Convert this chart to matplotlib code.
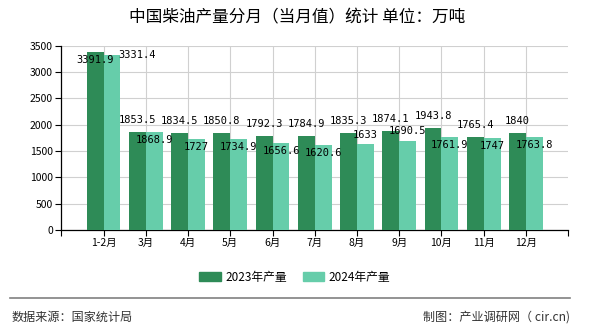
import matplotlib
matplotlib.use('Agg')
import matplotlib.pyplot as plt
import numpy as np
from matplotlib.lines import Line2D

plt.rcParams['font.family'] = ['Noto Sans CJK SC', 'DejaVu Sans']

# Data
months = ['1-2月', '3月', '4月', '5月', '6月', '7月', '8月', '9月', '10月', '11月', '12月']
prod_2023 = [3391.9, 1853.5, 1834.5, 1850.8, 1792.3, 1784.9, 1835.3, 1874.1, 1943.8, 1765.4, 1840]
prod_2024 = [3331.4, 1868.9, 1727, 1734.9, 1656.6, 1620.6, 1633, 1690.5, 1761.9, 1747, 1763.8]
label_2023 = ['3391.9', '1853.5', '1834.5', '1850.8', '1792.3', '1784.9', '1835.3', '1874.1', '1943.8', '1765.4', '1840']
label_2024 = ['3331.4', '1868.9', '1727', '1734.9', '1656.6', '1620.6', '1633', '1690.5', '1761.9', '1747', '1763.8']

c23 = '#2e8b57'
c24 = '#66cdaa'

fig = plt.figure(figsize=(5.9, 3.3), dpi=100)
ax = fig.add_axes([0.104, 0.303, 0.859, 0.558])

x = np.arange(1, len(months) + 1)
w = 0.4
ax.bar(x - w / 2, prod_2023, width=w, color=c23, zorder=3)
ax.bar(x + w / 2, prod_2024, width=w, color=c24, zorder=3)

# data labels: pixel offsets of the label centre from the bar top (dx, dy up)
off23 = [(0, -8)] + [(0, 12)] * 10
off24 = [(25, 0), (0, -8), (0, -8), (0, -8), (0, -8), (0, -8), (0, 9), (0, 10),
         (0, -8), (0, -8), (0, -8)]
for i in range(len(months)):
    ax.annotate(label_2023[i], (x[i] - w / 2, prod_2023[i]),
                xytext=(off23[i][0] * 0.72, off23[i][1] * 0.72),
                textcoords='offset points', ha='center', va='center',
                fontsize=7.5, family='DejaVu Sans Mono', zorder=5)
    ax.annotate(label_2024[i], (x[i] + w / 2, prod_2024[i]),
                xytext=(off24[i][0] * 0.72, off24[i][1] * 0.72),
                textcoords='offset points', ha='center', va='center',
                fontsize=7.5, family='DejaVu Sans Mono', zorder=5)

ax.set_xlim(0, len(months) + 1)
ax.set_ylim(0, 3500)
ax.set_yticks(np.arange(0, 3501, 500))
ax.set_xticks(x)
ax.set_xticklabels(months, fontsize=7.5)
ax.set_xticks(np.arange(0, len(months) + 2), minor=True)
ax.tick_params(axis='y', labelsize=7.5, length=4, width=0.8, pad=2)
ax.tick_params(axis='x', which='major', length=4, width=0.8, pad=2)
ax.tick_params(axis='x', which='minor', length=4, width=0.8)
ax.grid(True, color='#d0d0d0', linewidth=0.8, zorder=0)
ax.set_axisbelow(True)
for s in ['top', 'right']:
    ax.spines[s].set_visible(False)
for s in ['left', 'bottom']:
    ax.spines[s].set_linewidth(0.9)

fig.text(0.503, 0.945, '中国柴油产量分月（当月值）统计 单位：万吨',
         ha='center', va='center', fontsize=12)

handles = [plt.Rectangle((0, 0), 1, 1, color=c23), plt.Rectangle((0, 0), 1, 1, color=c24)]
fig.legend(handles, ['2023年产量', '2024年产量'], loc='center', bbox_to_anchor=(0.5, 0.16),
           ncol=2, frameon=False, fontsize=8.5, handlelength=1.8, handleheight=0.8,
           columnspacing=1.35, handletextpad=0.4)

fig.add_artist(Line2D([10 / 590, 570 / 590], [1 - 298 / 330, 1 - 298 / 330],
                      color='#808080', linewidth=1.2))
fig.text(12 / 590, 1 - 317 / 330, '数据来源：国家统计局', ha='left', va='center',
         fontsize=8.7, color='#333333')
fig.text(570 / 590, 1 - 317 / 330, '制图：产业调研网（ cir.cn)', ha='right', va='center',
         fontsize=8.7, color='#333333')

fig.savefig('out.png', dpi=100)
